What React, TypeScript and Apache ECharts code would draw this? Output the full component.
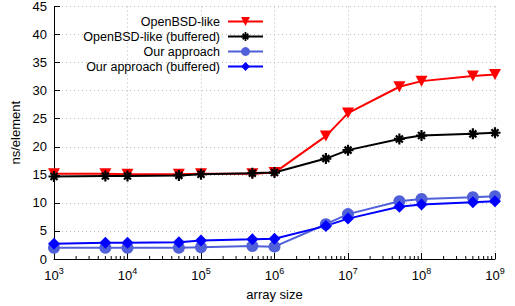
import React, { useEffect, useRef } from "react";
import * as echarts from "echarts";

const sizes = [1e3, 5e3, 1e4, 5e4, 1e5, 5e5, 1e6, 5e6, 1e7, 5e7, 1e8, 5e8, 1e9];
const openbsd = [15.2, 15.2, 15.1, 15.1, 15.2, 15.2, 15.4, 21.9, 26.0, 30.7, 31.7, 32.6, 32.9];
const openbsdBuf = [14.7, 14.8, 14.8, 14.9, 15.1, 15.3, 15.4, 17.9, 19.4, 21.4, 22.0, 22.3, 22.5];
const ours = [2.0, 2.0, 2.0, 2.0, 2.1, 2.3, 2.2, 6.2, 8.0, 10.3, 10.7, 11.0, 11.2];
const oursBuf = [2.7, 2.9, 2.9, 3.0, 3.3, 3.5, 3.6, 5.9, 7.2, 9.3, 9.7, 10.1, 10.3];
const seriesNames = ["OpenBSD-like", "OpenBSD-like (buffered)", "Our approach", "Our approach (buffered)"];
const minorTicks: number[] = [];
for (let e = 3; e < 9; e++) for (let m = 2; m <= 9; m++) minorTicks.push(m * Math.pow(10, e));

const FONT = "'Liberation Sans', Arial, Helvetica, sans-serif";
const asterisk =
  "path://M0 8 L20 8 L20 12 L0 12 Z M8 0 L12 0 L12 20 L8 20 Z M2.23 5.05 L5.05 2.23 L17.77 14.95 L14.95 17.77 Z M17.77 5.05 L5.05 17.77 L2.23 14.95 L14.95 2.23 Z";
const triDown = "path://M0 0 L10 0 L5 9 Z";

export default function App() {
  const ref = useRef<HTMLDivElement>(null);
  useEffect(() => {
    if (!ref.current) return;
    const chart = echarts.init(ref.current, null, { renderer: "svg" });
    const mk = (name: string, vals: number[], color: string, symbol: string, size: any) => ({
      name,
      type: "line",
      data: sizes.map((s, i) => [s, vals[i]]),
      symbol,
      symbolSize: size,
      showAllSymbol: true,
      lineStyle: { color, width: 2 },
      itemStyle: { color },
      emphasis: { disabled: true },
      z: 3,
    });
    chart.setOption({
      animation: false,
      textStyle: { fontFamily: FONT },
      grid: { left: 54, right: 20, top: 6, bottom: 44 },
      legend: {
        data: seriesNames,
        orient: "vertical",
        align: "right",
        right: 246,
        top: 10,
        itemWidth: 35,
        itemHeight: 11,
        itemGap: 2,
        textStyle: { fontSize: 12.5, lineHeight: 12, color: "#000", fontFamily: FONT, padding: [0, 3, 0, 0] },
      },
      xAxis: {
        type: "log",
        logBase: 10,
        min: 1e3,
        max: 1e9,
        name: "array size",
        nameLocation: "middle",
        nameGap: 29,
        nameTextStyle: { fontSize: 13, color: "#000", fontFamily: FONT },
        axisLine: { show: true, onZero: false, lineStyle: { color: "#000", width: 1 } },
        axisTick: { show: true, inside: true, length: 6, lineStyle: { color: "#000" } },
        splitLine: { show: true, lineStyle: { color: "#bbb", type: [1, 3], width: 1 } },
        axisLabel: {
          margin: 7,
          formatter: (v: number) => `{b|10}{s|${Math.round(Math.log10(v))}}`,
          rich: {
            b: { fontSize: 13, color: "#000", fontFamily: FONT, lineHeight: 16, verticalAlign: "bottom" },
            s: { fontSize: 9, color: "#000", fontFamily: FONT, lineHeight: 16, verticalAlign: "top" },
          },
        },
      },
      yAxis: {
        type: "value",
        min: 0,
        max: 45,
        interval: 5,
        name: "ns/element",
        nameLocation: "middle",
        nameGap: 30,
        nameRotate: 90,
        nameTextStyle: { fontSize: 13, color: "#000", fontFamily: FONT },
        axisLine: { show: true, lineStyle: { color: "#000", width: 1 } },
        axisTick: { show: true, inside: true, length: 6, lineStyle: { color: "#000" } },
        splitLine: { show: true, lineStyle: { color: "#bbb", type: [1, 3], width: 1 } },
        axisLabel: { fontSize: 13, color: "#000", margin: 7, fontFamily: FONT },
      },
      series: [
        mk(seriesNames[0], openbsd, "#ff0000", triDown, [12, 11]),
        mk(seriesNames[1], openbsdBuf, "#000000", asterisk, 11),
        mk(seriesNames[2], ours, "#5060d8", "circle", 12),
        mk(seriesNames[3], oursBuf, "#0000ff", "diamond", 12),
        {
          type: "custom",
          name: "minor",
          data: minorTicks.map((v) => [v, 0]),
          silent: true,
          z: 2,
          renderItem: (_p: any, api: any) => {
            const pt = api.coord([api.value(0), 0]);
            return {
              type: "line",
              shape: { x1: pt[0], y1: pt[1], x2: pt[0], y2: pt[1] - 3 },
              style: { stroke: "#000", lineWidth: 1 },
            };
          },
        },
      ],
    });
    return () => chart.dispose();
  }, []);
  return <div ref={ref} style={{ width: 515, height: 306, position: "absolute", left: 0, top: 0 }} />;
}
